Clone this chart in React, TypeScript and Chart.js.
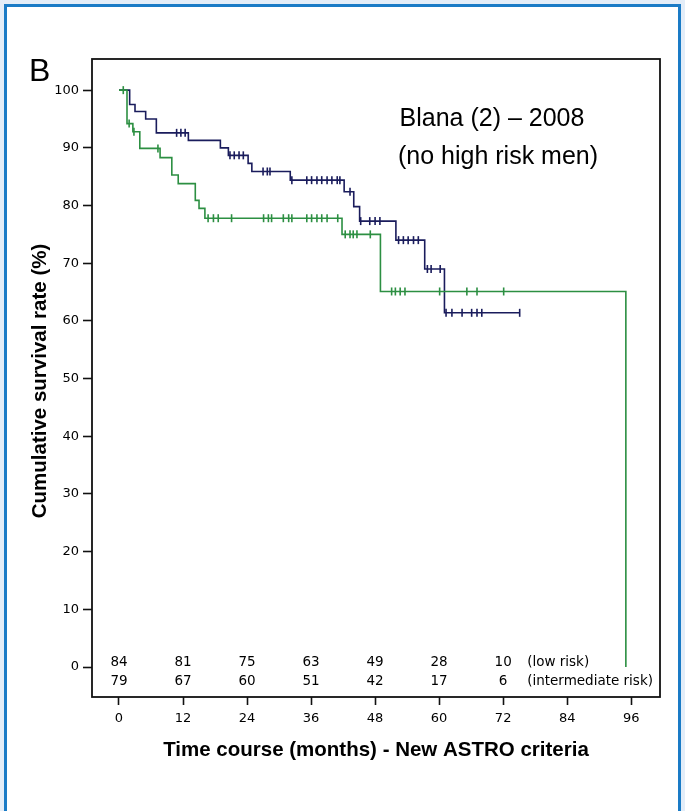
import React, { useEffect, useRef } from 'react';
import { Chart, registerables } from 'chart.js';

Chart.register(...registerables);

// Kaplan-Meier step curves (time in months, cumulative survival %)
const lowRiskTimes = [0, 2, 3, 5, 7, 13, 19, 20.5, 24.2, 24.9, 32.1, 42.2, 44, 45.1, 51.9, 57.3, 61, 75.1];
const lowRiskSurv = [100, 97.5, 96.3, 95, 92.6, 91.3, 90.0, 88.7, 87.3, 85.9, 84.4, 82.4, 79.8, 77.3, 74.0, 69.0, 61.4, 61.4];
const lowRiskCensored = [10.8, 11.6, 12.4, 20.8, 21.6, 22.5, 23.3, 27, 27.8, 28.3, 32.4, 35.2, 36.1, 37.1, 38, 39, 39.9, 40.9, 41.4, 43.3, 45.3, 47, 48, 48.9, 52.4, 53.3, 54.2, 55.2, 56.1, 57.8, 58.5, 60.2, 61.3, 62.4, 64.3, 66.1, 67.1, 68, 75.1];

const interRiskTimes = [0, 1.5, 2.6, 3.9, 7.7, 9.9, 11.1, 14.3, 15, 16.1, 41.8, 49, 95, 95];
const interRiskSurv = [100, 94.2, 92.8, 89.9, 88.3, 85.3, 83.8, 80.9, 79.5, 77.8, 75.0, 65.1, 65.1, 0];
const interRiskCensored = [0.8, 1.9, 2.8, 7.3, 16.7, 17.7, 18.6, 21.1, 27.1, 28, 28.6, 30.8, 31.8, 32.4, 35.2, 36.1, 37.1, 38, 39, 41, 42.4, 43.3, 43.9, 44.6, 47.1, 51.1, 51.8, 52.7, 53.6, 60.1, 65.2, 67.1, 72.1];

// Numbers at risk
const atRiskMonths = [0, 12, 24, 36, 48, 60, 72];
const atRiskLow = [84, 81, 75, 63, 49, 28, 10];
const atRiskIntermediate = [79, 67, 60, 51, 42, 17, 6];

// Axis ticks
const xTicks = [0, 12, 24, 36, 48, 60, 72, 84, 96];
const yTicks = [0, 10, 20, 30, 40, 50, 60, 70, 80, 90, 100];

const BLUE = '#1a1c5c';
const GREEN = '#2c8f42';

function stepValue(times: number[], surv: number[], t: number): number {
  let v = surv[0];
  for (let i = 0; i < times.length; i++) {
    if (times[i] <= t && surv[i] > 0) v = surv[i];
  }
  return v;
}

const decorPlugin = {
  id: 'decor',
  afterDraw(chart: any) {
    const { ctx, chartArea: a, scales } = chart;
    const x = scales.x;
    const y = scales.y;
    ctx.save();
    // frame
    ctx.strokeStyle = '#111';
    ctx.lineWidth = 1.8;
    ctx.strokeRect(a.left, a.top, a.right - a.left, a.bottom - a.top);

    // numbers at risk
    ctx.fillStyle = '#000';
    ctx.font = '13.5px "DejaVu Sans"';
    ctx.textAlign = 'center';
    ctx.textBaseline = 'middle';
    const y0 = y.getPixelForValue(0);
    atRiskMonths.forEach((m, i) => {
      const px = x.getPixelForValue(m);
      ctx.fillText(String(atRiskLow[i]), px, y0 - 5);
      ctx.fillText(String(atRiskIntermediate[i]), px, y0 + 14);
    });
    ctx.textAlign = 'left';
    const lx = x.getPixelForValue(72) + 24;
    ctx.fillText('(low risk)', lx, y0 - 5);
    ctx.fillText('(intermediate risk)', lx, y0 + 14);

    // axis titles
    ctx.fillStyle = '#000';
    ctx.font = 'bold 20.5px "Liberation Sans", Arial';
    ctx.textAlign = 'center';
    ctx.textBaseline = 'middle';
    ctx.fillText('Time course (months) - New ASTRO criteria', (a.left + a.right) / 2, a.bottom + 53);
    ctx.save();
    ctx.translate(a.left - 52, (a.top + a.bottom) / 2 + 3);
    ctx.rotate(-Math.PI / 2);
    ctx.fillText('Cumulative survival rate (%)', 0, 0);
    ctx.restore();

    // panel letter
    ctx.font = '32px "Liberation Sans", Arial';
    ctx.textAlign = 'left';
    ctx.textBaseline = 'alphabetic';
    ctx.fillText('B', a.left - 63, a.top + 22);

    // annotation
    ctx.font = '25px "Liberation Sans", Arial';
    ctx.textAlign = 'center';
    ctx.fillText('Blana (2) \u2013 2008', a.left + 400, a.top + 67);
    ctx.fillText('(no high risk men)', a.left + 406, a.top + 105);
    ctx.restore();
  },
};

export default function App() {
  const canvasRef = useRef<HTMLCanvasElement | null>(null);

  useEffect(() => {
    const canvas = canvasRef.current;
    if (!canvas) return;
    const lowLine = lowRiskTimes.map((t, i) => ({ x: t, y: lowRiskSurv[i] }));
    const interLine = interRiskTimes.map((t, i) => ({ x: t, y: interRiskSurv[i] }));
    const lowCens = lowRiskCensored.map((t) => ({ x: t, y: stepValue(lowRiskTimes, lowRiskSurv, t) }));
    const interCens = interRiskCensored.map((t) => ({ x: t, y: stepValue(interRiskTimes, interRiskSurv, t) }));

    const chart = new Chart(canvas, {
      type: 'line',
      data: {
        datasets: [
          {
            label: 'intermediate risk',
            data: interLine,
            borderColor: GREEN,
            borderWidth: 1.6,
            stepped: 'before',
            pointRadius: 0,
            fill: false,
          },
          {
            label: 'intermediate censored',
            data: interCens,
            showLine: false,
            pointStyle: 'line',
            rotation: 90,
            pointRadius: 4,
            borderColor: GREEN,
            pointBorderWidth: 1.6,
          },
          {
            label: 'low risk',
            data: lowLine,
            borderColor: BLUE,
            borderWidth: 1.6,
            stepped: 'before',
            pointRadius: 0,
            fill: false,
          },
          {
            label: 'low censored',
            data: lowCens,
            showLine: false,
            pointStyle: 'line',
            rotation: 90,
            pointRadius: 4,
            borderColor: BLUE,
            pointBorderWidth: 1.6,
          },
        ],
      },
      options: {
        animation: false,
        responsive: false,
        devicePixelRatio: 1,
        layout: { padding: { left: 0, top: 59, right: 25, bottom: 84 } },
        plugins: {
          legend: { display: false },
          tooltip: { enabled: false },
        },
        scales: {
          x: {
            type: 'linear',
            min: -5.06,
            max: 101.4,
            afterBuildTicks: (scale: any) => {
              scale.ticks = xTicks.map((v) => ({ value: v }));
            },
            afterFit: (scale: any) => {
              scale.height = 30;
            },
            border: { display: false },
            grid: {
              display: true,
              drawOnChartArea: false,
              drawTicks: true,
              tickLength: 8,
              tickColor: '#111',
              tickWidth: 1.6,
            },
            ticks: {
              color: '#000',
              font: { family: '"DejaVu Sans"', size: 13 },
              padding: 6,
              maxRotation: 0,
              autoSkip: false,
            },
          },
          y: {
            type: 'linear',
            min: -5.2,
            max: 105.4,
            afterBuildTicks: (scale: any) => {
              scale.ticks = yTicks.map((v) => ({ value: v }));
            },
            afterFit: (scale: any) => {
              scale.width = 92;
            },
            border: { display: false },
            grid: {
              display: true,
              drawOnChartArea: false,
              drawTicks: true,
              tickLength: 9,
              tickColor: '#111',
              tickWidth: 1.6,
            },
            ticks: {
              color: '#000',
              font: { family: '"DejaVu Sans"', size: 13 },
              padding: 4,
              autoSkip: false,
            },
          },
        },
      },
      plugins: [decorPlugin],
    });
    return () => chart.destroy();
  }, []);

  return (
    <div style={{ position: 'absolute', left: 0, top: 0, width: 685, height: 811, background: '#e3edf8', overflow: 'hidden' }}>
      <div
        style={{
          position: 'absolute',
          left: 4,
          top: 4,
          width: 671,
          height: 840,
          background: '#ffffff',
          border: '3px solid #1a7bc6',
        }}
      />
      <canvas
        ref={canvasRef}
        width={685}
        height={811}
        style={{ position: 'absolute', left: 0, top: 0, width: 685, height: 811, display: 'block' }}
      />
    </div>
  );
}
